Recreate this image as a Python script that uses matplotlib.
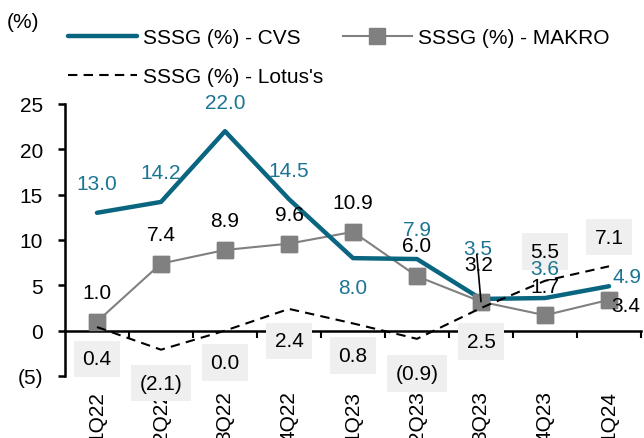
import matplotlib
matplotlib.use("Agg")
from matplotlib import pyplot as plt
from matplotlib.ticker import FuncFormatter, FixedLocator

plt.rcParams['font.family'] = ['Liberation Sans', 'DejaVu Sans']

quarters = ["1Q22", "2Q22", "3Q22", "4Q22", "1Q23", "2Q23", "3Q23", "4Q23", "1Q24"]
sssg_cvs = [13.0, 14.2, 22.0, 14.5, 8.0, 7.9, 3.5, 3.6, 4.9]
sssg_makro = [1.0, 7.4, 8.9, 9.6, 10.9, 6.0, 3.2, 1.7, 3.4]
sssg_lotus = [0.4, -2.1, 0.0, 2.4, 0.8, -0.9, 2.5, 5.5, 7.1]

# label offsets in points (dx, dy)
cvs_offsets = [(0, 21), (0, 21), (0, 21), (0, 21), (0, -21), (0, 21), (-2, 36), (0, 21), (13, 7)]
makro_offsets = [(0, 21), (0, 21), (0, 21), (0, 21), (0, 21), (0, 22), (-2, 27), (0, 21), (12, -4)]
lotus_offsets = [(0, -23), (0, -24), (0, -23), (0, -23), (0, -23), (0, -25), (0, -24), (0, 21), (0, 21)]

CVS_COLOR = "#0a6580"
CVS_TEXT = "#1b7592"
MAKRO_COLOR = "#808080"
BOX_COLOR = "#efefef"
FS = 15


def fmt(v):
    return f"({abs(v):.1f})" if v < 0 else f"{v:.1f}"


fig = plt.figure(figsize=(6.44, 4.39), dpi=100)
ax = fig.add_axes([65 / 644, 1 - 377 / 439, 576 / 644, 272 / 439])

x = list(range(len(quarters)))

cvs_line, = ax.plot(x, sssg_cvs, color=CVS_COLOR, lw=3.2, solid_capstyle="round",
                    label="SSSG (%) - CVS", zorder=3)
makro_line, = ax.plot(x, sssg_makro, color=MAKRO_COLOR, lw=1.5, marker="s", ms=11,
                      label="SSSG (%) - MAKRO", zorder=2)
ax.plot(x, sssg_makro, color=MAKRO_COLOR, lw=0, marker="s", ms=11, zorder=4)
lotus_line, = ax.plot(x, sssg_lotus, color="black", lw=1.5, dashes=(4.5, 3),
                      label="SSSG (%) - Lotus's", zorder=5)

# Lotus's labels sit in grey boxes, drawn first so the other labels stay on top
for i, v in enumerate(sssg_lotus):
    ax.annotate(fmt(v), (i, v), xytext=lotus_offsets[i], textcoords="offset points",
                ha="center", va="center", color="black", fontsize=FS,
                annotation_clip=False, zorder=6,
                bbox=dict(boxstyle="square,pad=0.42", fc=BOX_COLOR, ec="none"))

for i, v in enumerate(sssg_cvs):
    ax.annotate(fmt(v), (i, v), xytext=cvs_offsets[i], textcoords="offset points",
                ha="center", va="center", color=CVS_TEXT, fontsize=FS,
                annotation_clip=False, zorder=7)

for i, v in enumerate(sssg_makro):
    if quarters[i] == "3Q23":
        ax.annotate(fmt(v), (i, v), xytext=makro_offsets[i], textcoords="offset points",
                    ha="center", va="center", color="black", fontsize=FS, zorder=7,
                    arrowprops=dict(arrowstyle="-", color="black", lw=1.2,
                                    shrinkA=0, shrinkB=0, patchA=None, relpos=(0.45, 1.0)))
    else:
        ax.annotate(fmt(v), (i, v), xytext=makro_offsets[i], textcoords="offset points",
                    ha="center", va="center", color="black", fontsize=FS,
                    annotation_clip=False, zorder=7)

ax.set_xlim(-0.5, len(quarters) - 0.5)
ax.set_ylim(-5, 25)
ax.set_yticks([-5, 0, 5, 10, 15, 20, 25])
ax.yaxis.set_major_formatter(FuncFormatter(lambda v, p: f"({abs(int(v))})" if v < 0 else f"{int(v)}"))

ax.spines["top"].set_visible(False)
ax.spines["right"].set_visible(False)
ax.spines["bottom"].set_position(("data", 0))
ax.spines["left"].set_linewidth(1.8)
ax.spines["bottom"].set_linewidth(1.8)

ax.set_xticks(x)
ax.set_xticklabels(quarters, rotation=90, fontsize=FS, va="top", ha="center")
ax.xaxis.set_minor_locator(FixedLocator([i + 0.5 for i in x]))
ax.tick_params(axis="x", which="major", length=0, pad=43)
ax.tick_params(axis="x", which="minor", length=5, width=1.5, direction="out")
ax.tick_params(axis="y", length=5, width=1.8, direction="out", pad=11, labelsize=FS)

fig.text(23 / 644, 1 - 23 / 439, "(%)", ha="center", va="center", fontsize=FS)

fig.legend([cvs_line, lotus_line, makro_line],
           ["SSSG (%) - CVS", "SSSG (%) - Lotus's", "SSSG (%) - MAKRO"],
           ncol=2, loc="upper left", bbox_to_anchor=(68 / 644, 1 - 29 / 439),
           frameon=False, fontsize=FS, handlelength=3.3, handletextpad=0.3,
           columnspacing=0.95, labelspacing=0.95, borderpad=0, borderaxespad=0)

fig.savefig("out.png", dpi=100)
